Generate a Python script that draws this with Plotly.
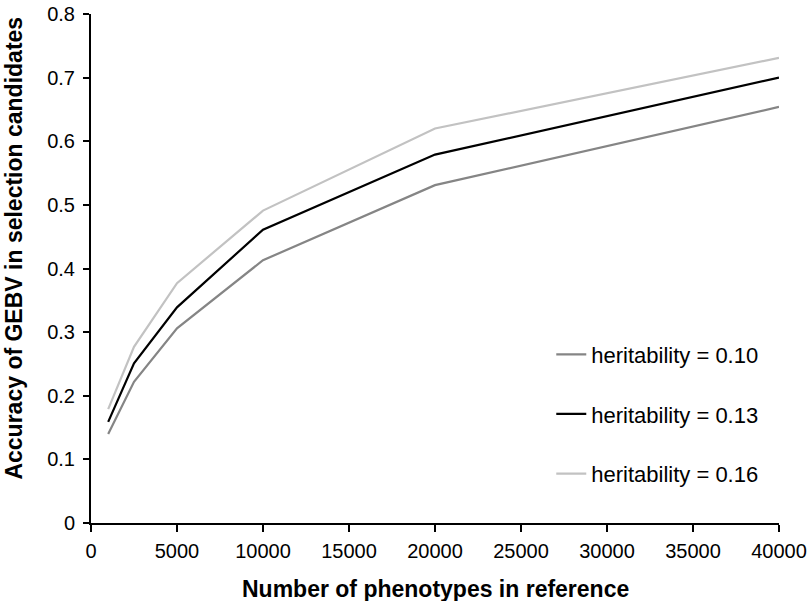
import plotly.graph_objects as go

n_phenotypes = [1000, 2500, 5000, 10000, 20000, 40000]
acc_h010 = [0.140, 0.222, 0.306, 0.413, 0.531, 0.654]
acc_h013 = [0.159, 0.251, 0.339, 0.461, 0.579, 0.700]
acc_h016 = [0.179, 0.277, 0.377, 0.491, 0.620, 0.731]
series_names = ["heritability = 0.10", "heritability = 0.13", "heritability = 0.16"]
x_ticks = [0, 5000, 10000, 15000, 20000, 25000, 30000, 35000, 40000]
y_ticks = [0, 0.1, 0.2, 0.3, 0.4, 0.5, 0.6, 0.7, 0.8]
y_tick_labels = ["0", "0.1", "0.2", "0.3", "0.4", "0.5", "0.6", "0.7", "0.8"]

colors = ["#858585", "#000000", "#c2c2c2"]
FONT = "Liberation Sans, Arial, Helvetica, sans-serif"

fig = go.Figure()
for name, vals, col in zip(series_names, [acc_h010, acc_h013, acc_h016], colors):
    fig.add_trace(go.Scatter(
        x=n_phenotypes, y=vals, mode="lines", name=name,
        legendgroup=name,
        line=dict(color=col, width=2.2),
    ))

fig.update_layout(
    width=808, height=601,
    margin=dict(l=91, r=29, t=14, b=78),
    paper_bgcolor="white", plot_bgcolor="white",
    font=dict(family=FONT, size=20, color="black"),
    showlegend=True,
    legend=dict(
        x=0.669, y=0.214, xanchor="left", yanchor="middle",
        bgcolor="rgba(0,0,0,0)", tracegroupgap=28,
        font=dict(size=22), itemwidth=30,
    ),
    xaxis=dict(
        range=[0, 40000], tickvals=x_ticks, ticktext=[str(v) for v in x_ticks],
        showline=True, linecolor="black", linewidth=2,
        ticks="outside", ticklen=7, tickwidth=2, tickcolor="black",
        showgrid=False, zeroline=False, automargin=False,
        tickfont=dict(size=20), ticklabelstandoff=2,
    ),
    yaxis=dict(
        range=[0, 0.8], tickvals=y_ticks, ticktext=y_tick_labels,
        showline=True, linecolor="black", linewidth=2,
        ticks="outside", ticklen=6, tickwidth=2, tickcolor="black",
        showgrid=False, zeroline=False, automargin=False,
        tickfont=dict(size=20), ticklabelstandoff=4,
    ),
    annotations=[
        dict(text="<b>Number of phenotypes in reference</b>", xref="paper", yref="paper",
             x=0.5, y=-0.13, xanchor="center", yanchor="middle", showarrow=False,
             font=dict(size=23)),
        dict(text="<b>Accuracy of GEBV in selection candidates</b>", xref="paper", yref="paper",
             x=-0.112, y=0.541, xanchor="center", yanchor="middle", showarrow=False,
             textangle=-90, font=dict(size=23)),
    ],
)

fig.write_html("out.html", config={"displayModeBar": False},
               post_script="document.body.style.margin='0';")
